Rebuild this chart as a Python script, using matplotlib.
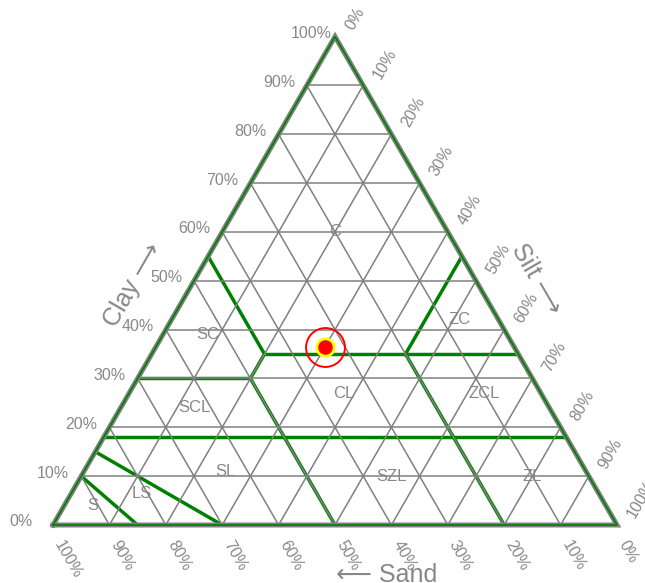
import numpy as np
import matplotlib.pyplot as plt

plt.rcParams['font.family'] = ['Liberation Sans', 'DejaVu Sans']

# Межі класів текстури: відрізки від (clay1, silt1) до (clay2, silt2), у %
seg_clay1 = [10, 15, 18, 30, 30, 0, 35, 35, 0, 35]
seg_silt1 = [0, 0, 0, 0, 20, 50, 20, 20, 80, 45]
seg_clay2 = [0, 0, 18, 30, 35, 30, 55, 35, 35, 55]
seg_silt2 = [15, 30, 82, 20, 20, 20, 0, 65, 45, 45]

# Назви класів і їх положення (clay, silt)
class_names = ['C', 'SC', 'ZC', 'CL', 'ZCL', 'SCL', 'SL', 'SZL', 'ZL', 'LS', 'S']
class_clay = [60, 39, 42, 27, 27, 24, 11, 10, 10, 6.5, 4]
class_silt = [20, 8, 51, 38, 63, 13, 25, 55, 80, 12.5, 5]

# Зразок ґрунту
sample_clay = 36.5
sample_silt = 30

ticks = list(range(0, 101, 10))

GREY = '#808080'
TXT = '#888888'
GREEN = '#008000'
P = 1 / 564  # один піксель у координатах даних


def xy(clay, silt):
    clay = np.asarray(clay, dtype=float)
    silt = np.asarray(silt, dtype=float)
    return (silt + clay / 2) / 100, clay / 100 * np.sqrt(3) / 2


fig = plt.figure(figsize=(6.45, 5.83), dpi=100)
ax = fig.add_axes([0, 0, 1, 1])
ax.set_xlim(-53 * P, 592 * P)
ax.set_ylim(-58 * P, 525 * P)
ax.axis('off')

# Сітка
for t in ticks[1:-1]:
    # clay = const
    x, y = xy([t, t], [0, 100 - t])
    ax.plot(x, y, color=GREY, lw=1.1, zorder=2)
    # silt = const
    x, y = xy([0, 100 - t], [t, t])
    ax.plot(x, y, color=GREY, lw=1.1, zorder=2)
    # sand = const
    x, y = xy([0, 100 - t], [100 - t, 0])
    ax.plot(x, y, color=GREY, lw=1.1, zorder=2)

# Межі класів
for c1, s1, c2, s2 in zip(seg_clay1, seg_silt1, seg_clay2, seg_silt2):
    x, y = xy([c1, c2], [s1, s2])
    ax.plot(x, y, color=GREEN, lw=2.5, zorder=1, solid_capstyle='butt')

# Контур трикутника
x, y = xy([0, 0, 100, 0], [0, 100, 0, 0])
ax.plot(x, y, color=GREY, lw=3.6, zorder=3, solid_joinstyle='miter')
ax.plot(x, y, color=GREEN, lw=1.2, zorder=4, solid_joinstyle='miter')

# Підписи класів
for name, c, s in zip(class_names, class_clay, class_silt):
    x, y = xy(c, s)
    ax.text(x, y, name, color=TXT, fontsize=12, ha='center', va='center', zorder=5)

# Підписи осей
for t in ticks:
    x, y = xy(t, 0)
    ax.text(x - 44 * P, y + 3 * P, f'{t}%', color=TXT, fontsize=11.5,
            ha='left', va='center')
    x, y = xy(100 - t, t)
    ax.text(x + 14 * P, y + 8 * P, f'{t}%', color=TXT, fontsize=11.5,
            ha='left', va='center', rotation=60, rotation_mode='anchor')
    x, y = xy(0, 100 - t)
    ax.text(x + 5 * P, y - 17 * P, f'{t}%', color=TXT, fontsize=11.5,
            ha='left', va='center', rotation=-60, rotation_mode='anchor')

ax.text((133 - 53) * P, (525 - 285) * P, 'Clay \u27f6', color=TXT, fontsize=18,
        ha='center', va='center', rotation=60, rotation_mode='anchor')
ax.text((536.5 - 53) * P, (525 - 279) * P, 'Silt \u27f6', color=TXT, fontsize=18,
        ha='center', va='center', rotation=-60, rotation_mode='anchor')
ax.text((386.5 - 53) * P, (525 - 582) * P, '\u27f5 Sand', color=TXT, fontsize=18,
        ha='center', va='baseline')

# Точка зразка
x, y = xy(sample_clay, sample_silt)
ax.plot(x, y, 'o', ms=12.5, mfc='red', mec='yellow', mew=2, zorder=7)
ax.plot(x, y, 'o', ms=28, mfc='none', mec='red', mew=1.4, zorder=7)

fig.savefig('out.png', dpi=100)
